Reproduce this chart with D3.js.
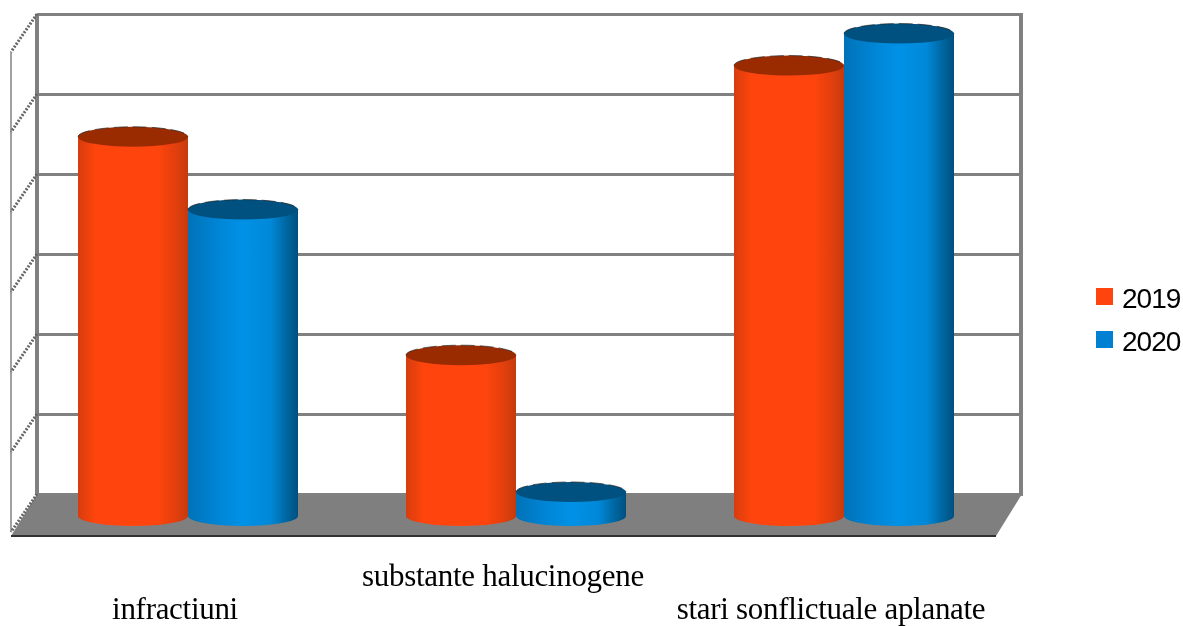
<!DOCTYPE html>
<html>
<head>
<meta charset="utf-8">
<script src="https://cdn.jsdelivr.net/npm/d3@7"></script>
<style>
  html, body { margin: 0; padding: 0; background: #fff; }
  svg { display: block; }
</style>
</head>
<body>
<div id="chart"></div>
<script>
const categories = ['infractiuni', 'substante halucinogene', 'stari sonflictuale aplanate'];
const seriesNames = ['2019', '2020'];
const values2019 = [4.74, 2.01, 5.63];
const values2020 = [3.83, 0.3, 6.03];
const gridTicks = [0, 1, 2, 3, 4, 5, 6];

const width = 1183;
const height = 626;

// wall and floor of the fake 3d box
const wallLeft = 37;
const wallRight = 1021;
const wallTop = 14;
const wallBottom = 494;
const depthX = 26;
const depthY = 38;
const floorFront = 536;
const barBase = 516;
const ry = 10;

const colors = {
  '2019': { top: '#9a2c06', mid: '#ff4510', dark: '#c53a0c', legend: '#ff4510' },
  '2020': { top: '#00517f', mid: '#0091e6', dark: '#004f7e', legend: '#0080d2' }
};

const y = d3.scaleLinear().domain([0, 6]).range([wallBottom, wallTop]);
const x0 = d3.scaleBand().domain(categories)
  .range([24, 1008]).paddingInner(108 / 328).paddingOuter(54 / 328);
const x1 = d3.scaleBand().domain(seriesNames).range([0, x0.bandwidth()]);

const svg = d3.select('#chart').append('svg')
  .attr('width', width)
  .attr('height', height);

const defs = svg.append('defs');

defs.append('filter').attr('id', 'soft')
  .attr('filterUnits', 'userSpaceOnUse')
  .attr('x', 0).attr('y', 0)
  .attr('width', width).attr('height', height)
  .append('feGaussianBlur').attr('stdDeviation', 0.7);

seriesNames.forEach(name => {
  const c = colors[name];
  const grad = defs.append('linearGradient').attr('id', 'body' + name);
  const stops = name === '2019'
    ? [[0, '#d53d0c'], [0.16, '#ff4510'], [0.72, '#ff4510'], [0.9, '#df3f0d'], [1, c.dark]]
    : [[0, '#0072b8'], [0.3, '#0087d8'], [0.5, c.mid], [0.75, '#0088d8'], [0.9, '#00659f'], [1, c.dark]];
  stops.forEach(s => grad.append('stop').attr('offset', s[0]).attr('stop-color', s[1]));
});

const root = svg.append('g').attr('filter', 'url(#soft)');

// floor
root.append('path')
  .attr('d', d3.line()([[wallLeft, wallBottom], [wallRight + 1, wallBottom],
    [wallRight + 1 - depthX, floorFront], [wallLeft - depthX, floorFront]]) + 'Z')
  .attr('fill', '#7f7f7f');

root.append('line')
  .attr('x1', wallLeft - depthX).attr('x2', wallRight + 1 - depthX)
  .attr('y1', floorFront).attr('y2', floorFront)
  .attr('stroke', '#333').attr('stroke-width', 2);

// gridlines on the back wall
const grid = root.append('g')
  .attr('transform', `translate(${wallLeft},0)`)
  .call(d3.axisLeft(y).tickValues(gridTicks).tickSize(-(wallRight - wallLeft)).tickFormat(''));
grid.select('.domain').remove();
grid.selectAll('.tick line').attr('stroke', '#808080').attr('stroke-width', 3);

// back wall edges
root.append('line')
  .attr('x1', wallLeft).attr('x2', wallLeft)
  .attr('y1', wallTop).attr('y2', wallBottom)
  .attr('stroke', '#808080').attr('stroke-width', 4);
root.append('line')
  .attr('x1', wallRight).attr('x2', wallRight)
  .attr('y1', wallTop - 1).attr('y2', wallBottom + 2)
  .attr('stroke', '#808080').attr('stroke-width', 4);

// left wall
root.append('line')
  .attr('x1', wallLeft - depthX).attr('x2', wallLeft - depthX)
  .attr('y1', wallTop + depthY).attr('y2', wallBottom + depthY)
  .attr('stroke', '#808080').attr('stroke-width', 1.5);

root.append('g').selectAll('line')
  .data(gridTicks)
  .enter()
  .append('line')
  .attr('x1', wallLeft)
  .attr('x2', wallLeft - depthX)
  .attr('y1', d => y(d))
  .attr('y2', d => y(d) + depthY)
  .attr('stroke', '#666')
  .attr('stroke-width', 3)
  .attr('stroke-dasharray', '2 1.5');

// cylinders
const yBar = v => barBase - (y(0) - y(v));
const barData = categories.flatMap((cat, i) => [
  { cat, name: '2019', value: values2019[i] },
  { cat, name: '2020', value: values2020[i] }
]);

const bars = root.append('g').selectAll('g')
  .data(barData)
  .enter()
  .append('g')
  .attr('transform', d => `translate(${x0(d.cat) + x1(d.name)},0)`);

const rx = x1.bandwidth() / 2;

bars.append('path')
  .attr('d', d => {
    const t = yBar(d.value);
    return `M0,${t}L0,${barBase}A${rx},${ry} 0 0 0 ${2 * rx},${barBase}L${2 * rx},${t}Z`;
  })
  .attr('fill', d => `url(#body${d.name})`);

bars.append('ellipse')
  .attr('cx', rx)
  .attr('cy', d => yBar(d.value))
  .attr('rx', rx)
  .attr('ry', ry)
  .attr('fill', d => colors[d.name].top);

// jagged dark rim on the rear of the top
bars.append('path')
  .attr('d', d => `M0,${yBar(d.value)}A${rx},${ry} 0 0 1 ${2 * rx},${yBar(d.value)}`)
  .attr('fill', 'none')
  .attr('stroke', '#222')
  .attr('stroke-width', 1)
  .attr('stroke-opacity', 0.7)
  .attr('stroke-dasharray', '14 5');

// category labels, staggered on two rows
const labelRows = [619, 586, 619];
const xAxis = root.append('g')
  .attr('transform', `translate(-13,0)`)
  .call(d3.axisBottom(x0).tickSize(0));
xAxis.select('.domain').remove();
xAxis.selectAll('.tick text')
  .attr('y', (d, i) => labelRows[i])
  .attr('dy', 0)
  .attr('fill', '#000')
  .style('font-family', '"Liberation Serif", serif')
  .style('font-size', '31px')
  .style('letter-spacing', '-0.3px');

// legend
const legend = root.append('g').selectAll('g')
  .data(seriesNames)
  .enter()
  .append('g')
  .attr('transform', (d, i) => `translate(1096,${288 + i * 43})`);

legend.append('rect')
  .attr('width', 17)
  .attr('height', 17)
  .attr('fill', d => colors[d].legend);

legend.append('text')
  .attr('x', 26)
  .attr('y', 20)
  .attr('fill', '#000')
  .style('font-family', '"Liberation Sans", sans-serif')
  .style('font-size', '28px')
  .style('letter-spacing', '-1px')
  .text(d => d);
</script>
</body>
</html>
